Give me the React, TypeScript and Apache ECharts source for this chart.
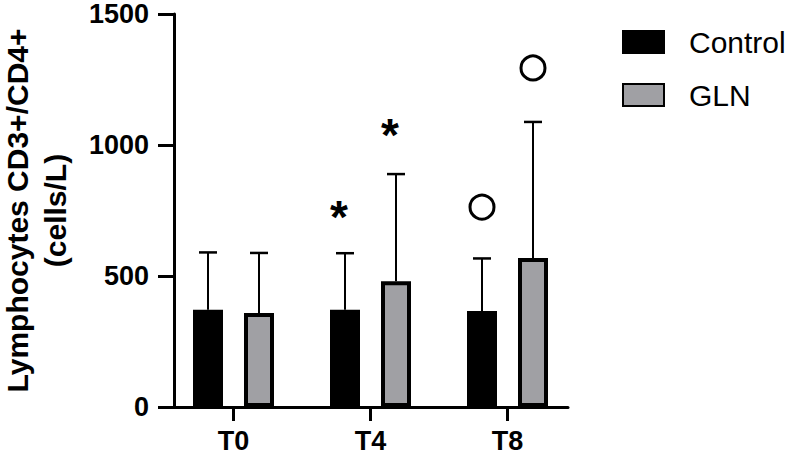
import React, { useEffect, useRef } from "react";
import * as echarts from "echarts";

const categories = ["T0", "T4", "T8"];
const seriesNames = ["Control", "GLN"];
const controlMean = [371, 371, 366];
const glnMean = [359, 480, 569];
const controlUpper = [590, 587, 567];
const glnUpper = [588, 889, 1088];
const controlStar: (number | null)[] = [null, 771, null];
const glnStar: (number | null)[] = [null, 1084, null];
const controlCircle: (number | null)[] = [null, null, 763];
const glnCircle: (number | null)[] = [null, null, 1294];
const yMin = 0;
const yMax = 1500;
const yInterval = 500;

const FONT = "'Liberation Sans', Arial, Helvetica, sans-serif";
const BAR_W = 30;
const BAR_GAP = 0.7;
const HALF = (BAR_W + BAR_W * BAR_GAP) / 2; // center offset of each bar from category center

export default function App() {
  const ref = useRef<HTMLDivElement>(null);
  useEffect(() => {
    if (!ref.current) return;
    const chart = echarts.init(ref.current, null, { renderer: "svg" });

    const errData: number[][] = [];
    categories.forEach((_, i) => {
      errData.push([i, controlMean[i], controlUpper[i], 0]);
      errData.push([i, glnMean[i], glnUpper[i], 1]);
    });
    const annData: number[][] = [];
    categories.forEach((_, i) => {
      if (controlStar[i] != null) annData.push([i, controlStar[i] as number, 0, 0]);
      if (glnStar[i] != null) annData.push([i, glnStar[i] as number, 1, 0]);
      if (controlCircle[i] != null) annData.push([i, controlCircle[i] as number, 0, 1]);
      if (glnCircle[i] != null) annData.push([i, glnCircle[i] as number, 1, 1]);
    });

    const option: any = {
      animation: false,
      backgroundColor: "#fff",
      textStyle: { fontFamily: FONT },
      legend: {
        data: seriesNames,
        orient: "vertical",
        left: 622,
        top: 27,
        padding: 0,
        icon: "rect",
        itemWidth: 41,
        itemHeight: 22,
        itemGap: 23,
        textStyle: { fontSize: 30, color: "#000", fontFamily: FONT, padding: [0, 0, 0, 20] },
      },
      grid: [
        { left: 165, top: 14, width: 411, height: 393, containLabel: false, outerBoundsMode: "none" },
        { left: 174, top: 14, width: 394, height: 393, containLabel: false, outerBoundsMode: "none" },
      ],
      xAxis: [
        {
          type: "category",
          gridIndex: 0,
          data: categories,
          axisLine: { show: false },
          axisTick: { show: true, alignWithLabel: true, length: 14, lineStyle: { color: "#000", width: 3 } },
          axisLabel: { color: "#000", fontSize: 27, fontWeight: "bold", fontFamily: FONT, margin: 20 },
        },
        {
          type: "category",
          gridIndex: 1,
          data: categories,
          axisLine: { show: true, lineStyle: { color: "#000", width: 3 } },
          axisTick: { show: false },
          axisLabel: { show: false },
        },
      ],
      yAxis: [
        {
          type: "value",
          gridIndex: 0,
          min: yMin,
          max: yMax,
          interval: yInterval,
          show: false,
          splitLine: { show: false },
        },
        {
          type: "value",
          gridIndex: 1,
          min: yMin,
          max: yMax,
          interval: yInterval,
          splitLine: { show: false },
          axisLine: { show: true, lineStyle: { color: "#000", width: 3 } },
          axisTick: { show: true, length: 16, lineStyle: { color: "#000", width: 3 } },
          axisLabel: {
            color: "#000",
            fontSize: 27,
            fontWeight: "bold",
            fontFamily: FONT,
            margin: 25,
            formatter: (v: number) => String(v),
          },
          name: "Lymphocytes CD3+/CD4+\n(cells/L)",
          nameLocation: "middle",
          nameRotate: 90,
          nameGap: 100,
          nameTextStyle: {
            color: "#000",
            fontSize: 30,
            fontWeight: "bold",
            fontFamily: FONT,
            lineHeight: 38,
          },
        },
      ],
      series: [
        {
          name: "Control",
          type: "bar",
          xAxisIndex: 0,
          yAxisIndex: 0,
          data: controlMean,
          barWidth: BAR_W,
          barGap: BAR_GAP * 100 + "%",
          itemStyle: { color: "#000", borderColor: "#000", borderWidth: 4 },
          z: 3,
        },
        {
          name: "GLN",
          type: "bar",
          xAxisIndex: 0,
          yAxisIndex: 0,
          data: glnMean,
          barWidth: BAR_W,
          barGap: BAR_GAP * 100 + "%",
          itemStyle: { color: "#a0a0a4", borderColor: "#000", borderWidth: 4 },
          z: 3,
        },
        {
          type: "custom",
          xAxisIndex: 0,
          yAxisIndex: 0,
          data: errData,
          z: 2,
          silent: true,
          renderItem: (params: any, api: any) => {
            const cat = api.value(0);
            const grp = api.value(3);
            const base = api.coord([cat, api.value(1)]);
            const top = api.coord([cat, api.value(2)]);
            const x = base[0] + (grp === 0 ? -HALF : HALF);
            return {
              type: "group",
              children: [
                { type: "line", shape: { x1: x, y1: base[1], x2: x, y2: top[1] }, style: { stroke: "#000", lineWidth: 2 } },
                { type: "line", shape: { x1: x - 9, y1: top[1], x2: x + 9, y2: top[1] }, style: { stroke: "#000", lineWidth: 2.5 } },
              ],
            };
          },
        },
        {
          type: "custom",
          xAxisIndex: 0,
          yAxisIndex: 0,
          data: annData,
          z: 4,
          silent: true,
          renderItem: (params: any, api: any) => {
            const cat = api.value(0);
            const grp = api.value(2);
            const kind = api.value(3);
            const p = api.coord([cat, api.value(1)]);
            const x = p[0] + (grp === 0 ? -HALF : HALF);
            if (kind === 1) {
              return {
                type: "circle",
                shape: { cx: x, cy: p[1], r: 12 },
                style: { fill: "#fff", stroke: "#000", lineWidth: 3 },
              };
            }
            return {
              type: "text",
              x: x - 6,
              y: p[1] + 12,
              style: {
                text: "*",
                fontSize: 46,
                fontWeight: "bold",
                fontFamily: FONT,
                fill: "#000",
                align: "center",
                verticalAlign: "middle",
              },
            };
          },
        },
      ],
    };
    chart.setOption(option);
    return () => chart.dispose();
  }, []);
  return <div ref={ref} style={{ position: "fixed", left: 0, top: 0, width: 788, height: 456 }} />;
}
